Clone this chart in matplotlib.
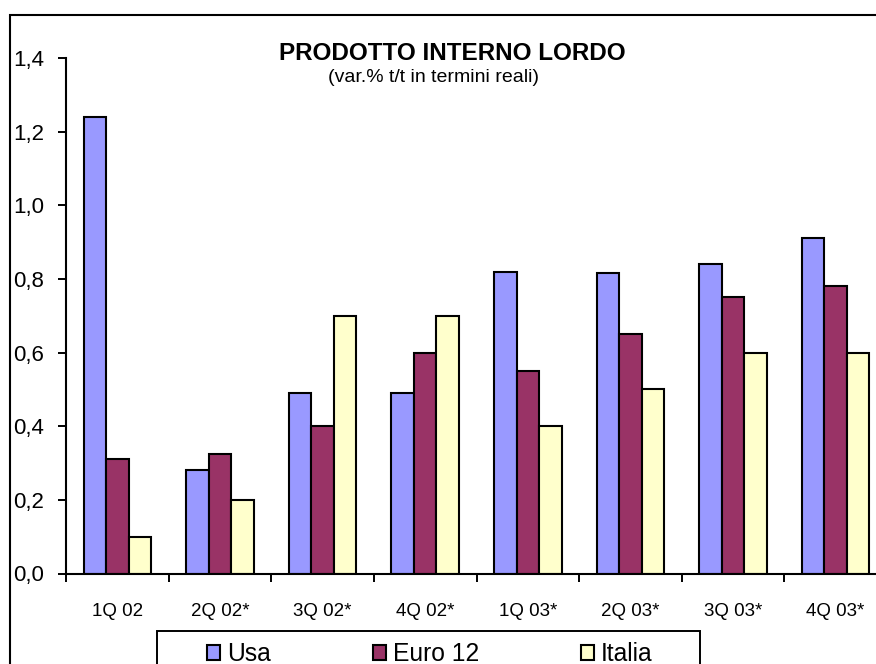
import matplotlib
matplotlib.use("Agg")
import matplotlib.pyplot as plt
from matplotlib.patches import Rectangle
import numpy as np

plt.rcParams['font.family'] = ['Liberation Sans', 'DejaVu Sans']

categories = ["1Q 02", "2Q 02*", "3Q 02*", "4Q 02*", "1Q 03*", "2Q 03*", "3Q 03*", "4Q 03*"]
usa = [1.24, 0.28, 0.49, 0.49, 0.82, 0.815, 0.84, 0.91]
euro12 = [0.31, 0.325, 0.40, 0.60, 0.55, 0.65, 0.75, 0.78]
italia = [0.10, 0.20, 0.70, 0.70, 0.40, 0.50, 0.60, 0.60]
series_names = ["Usa", "Euro 12", "Italia"]
colors = ["#9999FF", "#993366", "#FFFFCC"]
yticks = [0.0, 0.2, 0.4, 0.6, 0.8, 1.0, 1.2, 1.4]

W, H = 876, 664
fig = plt.figure(figsize=(W / 100, H / 100), dpi=100)

# outer chart frame
fig.patches.append(Rectangle((10 / W, 1 - 720 / H), 900 / W, (720 - 15) / H,
                             transform=fig.transFigure, fill=False,
                             edgecolor="black", linewidth=1.5, clip_on=False))

ax = fig.add_axes([66 / W, 1 - 573.5 / H, (887 - 66) / W, (573.5 - 58) / H])
x = np.arange(len(categories))
bw = 0.219
for i, (vals, name, c) in enumerate(zip([usa, euro12, italia], series_names, colors)):
    ax.bar(x + (i - 1) * bw, vals, width=bw, color=c, edgecolor="black",
           linewidth=1.5, label=name, zorder=2)

ax.set_xlim(-0.5, len(categories) - 0.5)
ax.set_ylim(0, 1.4)
ax.set_yticks(yticks)
ax.set_yticklabels([f"{v:.1f}".replace(".", ",") for v in yticks], fontsize=16)
ax.set_xticks(np.arange(len(categories) + 1) - 0.5)
ax.set_xticklabels([])
ax.set_xticks(x, minor=True)
ax.set_xticklabels(categories, minor=True, fontsize=13.5)
ax.tick_params(axis="x", which="minor", length=0, pad=21)
ax.tick_params(axis="x", which="major", length=6, width=1.4, direction="out")
ax.tick_params(axis="y", length=6, width=1.4, direction="out", pad=10)
for s in ["top", "right"]:
    ax.spines[s].set_visible(False)
for s in ["left", "bottom"]:
    ax.spines[s].set_linewidth(1.5)

fig.text(452 / W, 1 - 60.5 / H, "PRODOTTO INTERNO LORDO", ha="center", va="baseline",
         fontsize=17.5, fontweight="bold")
fig.text(434 / W, 1 - 81.5 / H, "(var.% t/t in termini reali)", ha="center", va="baseline",
         fontsize=14)

# legend
fig.patches.append(Rectangle((157 / W, 1 - 720 / H), (700 - 157) / W, (720 - 631) / H,
                             transform=fig.transFigure, fill=False,
                             edgecolor="black", linewidth=1.4, clip_on=False))
handles, labels = ax.get_legend_handles_labels()
leg = fig.legend(handles, labels, loc="upper center", bbox_to_anchor=(430 / W, 1 - 642 / H),
                 ncol=3, frameon=False, fontsize=17.7, handlelength=0.53, handleheight=0.6,
                 handletextpad=0.28, columnspacing=4.15, borderpad=0, borderaxespad=0)

fig.savefig("out.png", dpi=100)
